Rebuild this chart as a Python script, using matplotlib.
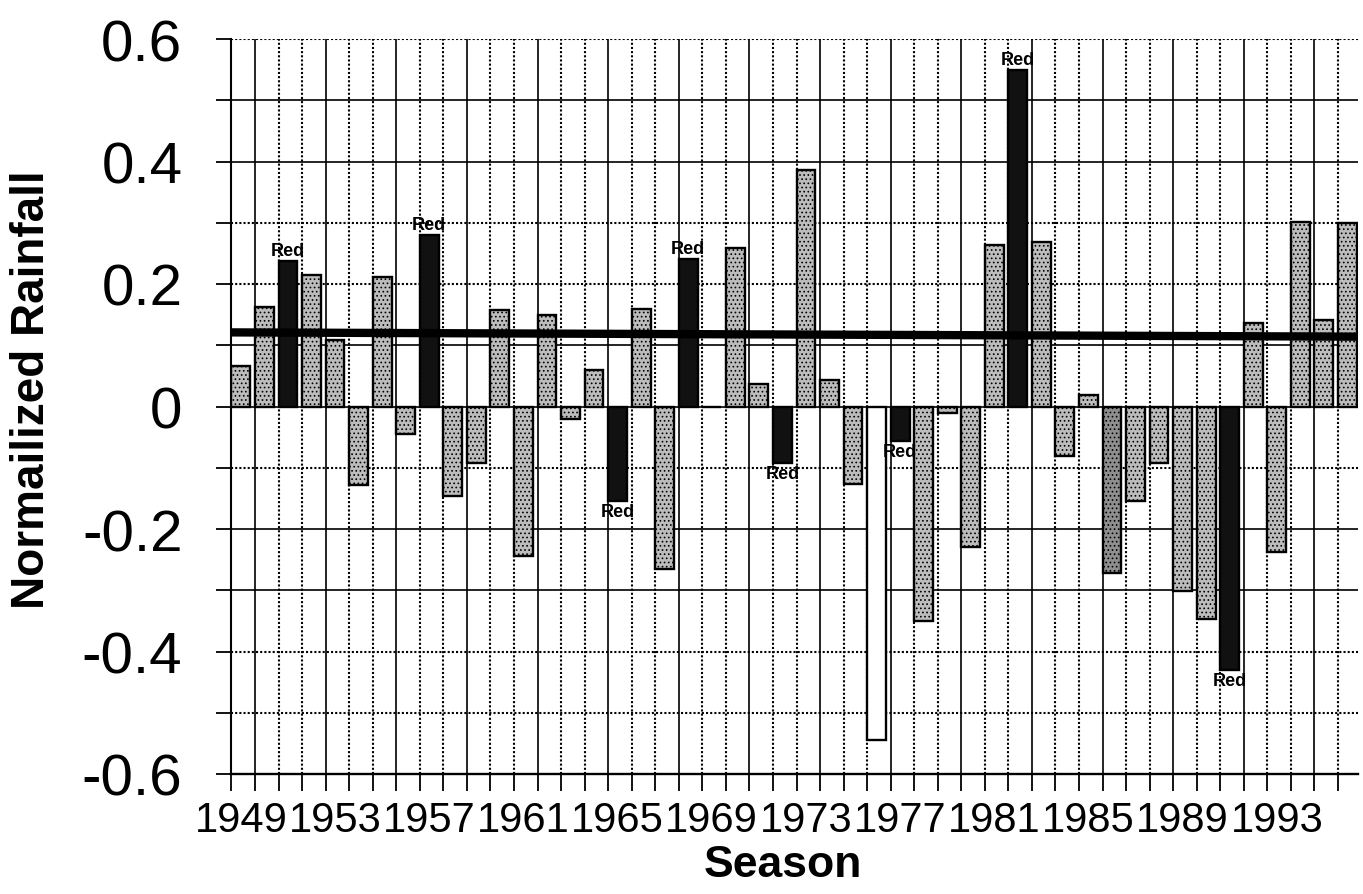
import matplotlib
matplotlib.use("Agg")
import matplotlib.pyplot as plt
from matplotlib import font_manager
import numpy as np

# ---- data ----
years = list(range(1949, 1997))
values = [0.066, 0.163, 0.237, 0.214, 0.108, -0.128, 0.211, -0.045, 0.280, -0.146,
          -0.092, 0.158, -0.244, 0.149, -0.020, 0.060, -0.155, 0.160, -0.266, 0.241,
          0.0, 0.259, 0.036, -0.092, 0.386, 0.043, -0.126, -0.545, -0.057, -0.351,
          -0.010, -0.230, 0.264, 0.549, 0.268, -0.080, 0.019, -0.272, -0.155, -0.092,
          -0.301, -0.347, -0.430, 0.136, -0.237, 0.301, 0.142, 0.299]
red_years = [1951, 1957, 1965, 1968, 1972, 1977, 1982, 1991]
white_years = [1976]
dark_years = [1986]
label_years = list(range(1949, 1997, 4))
trend_start, trend_end = 0.121, 0.114
yticks_major = [-0.6, -0.4, -0.2, 0, 0.2, 0.4, 0.6]
ytick_labels = ["-0.6", "-0.4", "-0.2", "0", "0.2", "0.4", "0.6"]
hgrid_vals = [0.6, 0.5, 0.4, 0.3, 0.2, 0.1, 0.0, -0.1, -0.2, -0.3, -0.4, -0.5]
hgrid_dotted = [True, False, False, True, True, False, False, True, False, False, True, True]

names = {f.name for f in font_manager.fontManager.ttflist}
base = "Liberation Sans" if "Liberation Sans" in names else "DejaVu Sans"
narrow = "Liberation Sans Narrow" if "Liberation Sans Narrow" in names else base
xsize = 37 if narrow != base else 30

plt.rcParams["font.family"] = [base, "DejaVu Sans"]
plt.rcParams["hatch.linewidth"] = 0.7

fig = plt.figure(figsize=(13.63, 8.95), dpi=100)
ax = fig.add_axes([231 / 1363, 1 - 775 / 895, 1127 / 1363, 735 / 895])

x = np.arange(len(years))
face, hatch = [], []
for yr in years:
    if yr in red_years:
        face.append("#111111"); hatch.append(None)
    elif yr in white_years:
        face.append("white"); hatch.append(None)
    elif yr in dark_years:
        face.append("#8f8f8f"); hatch.append("....")
    else:
        face.append("#bcbcbc"); hatch.append("....")

bars = ax.bar(x, values, width=0.8, color=face, edgecolor="black", linewidth=1.7, zorder=3)
for b, h in zip(bars, hatch):
    if h:
        b.set_hatch(h)

for xi, yr, v in zip(x, years, values):
    if yr in red_years:
        if v >= 0:
            ax.text(xi, v + 0.003, "Red", ha="center", va="bottom", fontsize=13,
                    fontweight="bold", zorder=5)
        else:
            ax.text(xi, v - 0.003, "Red", ha="center", va="top", fontsize=13,
                    fontweight="bold", zorder=5)

# trend line
ax.plot([x[0] - 0.45, x[-1] + 0.45], [trend_start, trend_end], color="black",
        linewidth=6, solid_capstyle="round", zorder=4)

# grid
for gv, dotted in zip(hgrid_vals, hgrid_dotted):
    if dotted:
        ax.axhline(gv, color="black", linestyle=(0, (1, 1)), linewidth=1.5, zorder=1)
    else:
        ax.axhline(gv, color="black", linestyle="-", linewidth=1.2, zorder=1)
vgrid = x[1:] - 0.4
for k, gx in enumerate(vgrid):
    if k % 3 == 0:
        ax.axvline(gx, color="black", linestyle="-", linewidth=1.2, zorder=1)
    else:
        ax.axvline(gx, color="black", linestyle=(0, (1, 1)), linewidth=1.5, zorder=1)

ax.set_xlim(x[0] - 0.42, x[-1] + 0.45)
ax.set_ylim(-0.6, 0.6)

for s in ["top", "right"]:
    ax.spines[s].set_visible(False)
ax.spines["left"].set_linewidth(1.5)
ax.spines["bottom"].set_linewidth(1.7)

ax.set_yticks(yticks_major)
ax.set_yticklabels(ytick_labels, fontsize=42)
ax.set_yticks(np.round(np.arange(-0.5, 0.6, 0.2), 2), minor=True)
ax.tick_params(axis="y", which="both", direction="out", length=11, width=1.3, pad=24)

pos_labels = [years.index(y) for y in label_years]
ax.set_xticks(pos_labels)
ax.set_xticklabels([str(y) for y in label_years], fontsize=xsize, family=[narrow, "DejaVu Sans"])
ax.set_xticks(np.concatenate([[x[0] - 0.42], vgrid]), minor=True)
ax.tick_params(axis="x", which="major", length=0, pad=19)
ax.tick_params(axis="x", which="minor", direction="out", length=12, width=1.3)

fig.text(32 / 1363, 1 - 390 / 895, "Normailized Rainfall", rotation=90, ha="center",
         va="center", fontsize=33, fontweight="bold")
fig.text(783 / 1363, 1 - 866 / 895, "Season", ha="center", va="center", fontsize=32,
         fontweight="bold")

fig.savefig("out.png", dpi=100, facecolor="white")
